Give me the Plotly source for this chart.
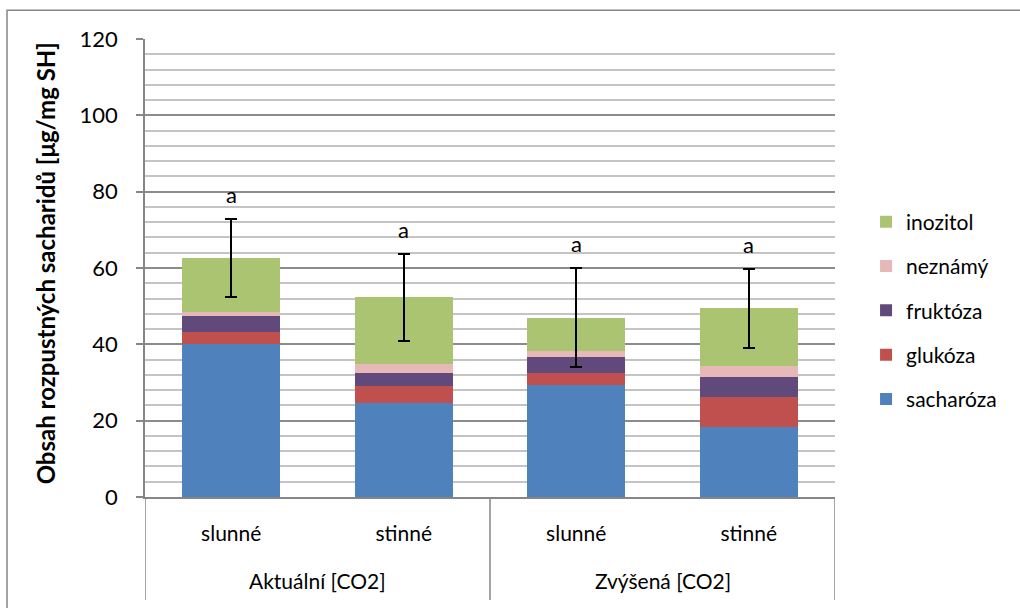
import plotly.graph_objects as go

# Stacked soluble-sugar content per treatment
groups = ["Aktuální [CO2]", "Zvýšená [CO2]"]
light = ["slunné", "stinné", "slunné", "stinné"]
group_of_bar = [0, 0, 1, 1]

series_names = ["sacharóza", "glukóza", "fruktóza", "neznámý", "inozitol"]
series_colors = ["#4F81BD", "#C0504D", "#614A7B", "#E6B9B8", "#AAC472"]
sacharoza = [40.0, 24.6, 29.4, 18.3]
glukoza = [3.2, 4.6, 3.1, 7.9]
fruktoza = [4.1, 3.3, 4.3, 5.3]
neznamy = [1.3, 2.4, 1.4, 2.8]
inozitol = [14.0, 17.4, 8.8, 15.1]
series_values = [sacharoza, glukoza, fruktoza, neznamy, inozitol]

total_err = [10.3, 11.5, 13.0, 10.3]
letters = ["a", "a", "a", "a"]

FONT = "Lato"
x = list(range(len(light)))
n = len(series_names)

fig = go.Figure()
for i, (name, color, vals) in enumerate(zip(series_names, series_colors, series_values)):
    is_top = i == n - 1
    fig.add_trace(go.Bar(
        x=x, y=vals, name=name,
        marker=dict(color=color, line=dict(width=0)),
        width=0.57,
        legendgroup=name,
        legendrank=n - i,  # top segment listed first
        error_y=dict(type="data", array=total_err, color="black",
                     thickness=2, width=6, visible=is_top),
        hoverinfo="skip",
    ))

totals = [sum(s[k] for s in series_values) for k in x]

annotations = []
# significance letters above the error bars
for k in x:
    annotations.append(dict(
        x=k, y=totals[k] + total_err[k], xref="x", yref="y",
        text=letters[k], showarrow=False, yanchor="bottom", yshift=9,
        font=dict(family=FONT, size=22, color="black"),
    ))
# group labels of the category axis
for g, gname in enumerate(groups):
    members = [k for k in x if group_of_bar[k] == g]
    annotations.append(dict(
        x=sum(members) / len(members), y=-0.183, xref="x", yref="paper",
        text=gname, showarrow=False, yanchor="middle",
        font=dict(family=FONT, size=21, color="black"),
    ))
# y-axis title
annotations.append(dict(
    x=-0.145, y=0.51, xref="paper", yref="paper", textangle=-90,
    text="Obsah rozpustných sacharidů [μg/mg SH]", showarrow=False,
    xanchor="center", yanchor="middle",
    font=dict(family=FONT, size=24, color="black", weight="bold"),
))

shapes = []
# category separators running down through the label area
for b in [-0.5, 1.5, 3.5]:
    shapes.append(dict(type="line", xref="x", yref="paper", x0=b, x1=b,
                       y0=0, y1=-0.225, line=dict(color="#868686", width=1.5)))
# outer chart frame
shapes.append(dict(type="rect", xref="paper", yref="paper",
                   x0=-0.2, x1=1.3, y0=-0.3, y1=1.063,
                   line=dict(color="#868686", width=1.5)))

fig.update_layout(
    width=1020, height=608,
    margin=dict(l=145, r=185, t=39, b=111),
    paper_bgcolor="white", plot_bgcolor="white",
    barmode="stack",
    font=dict(family=FONT, size=21, color="black"),
    showlegend=True,
    legend=dict(
        x=1.045, xanchor="left", y=0.645, yanchor="top",
        traceorder="grouped", tracegroupgap=14,
        font=dict(family=FONT, size=21, color="black"),
        itemwidth=30, bgcolor="rgba(0,0,0,0)",
    ),
    annotations=annotations,
    shapes=shapes,
)
fig.update_xaxes(
    range=[-0.5, 3.5], tickvals=x, ticktext=light,
    showgrid=False, zeroline=False, showline=True, linecolor="#868686", linewidth=1.5,
    ticks="", ticklabelstandoff=17,
    tickfont=dict(family=FONT, size=21, color="black"),
)
fig.update_yaxes(
    range=[0, 120], dtick=20, tick0=0,
    showgrid=True, gridcolor="#8C8C8C", gridwidth=1.5,
    minor=dict(dtick=4, showgrid=True, gridcolor="#C4C4C4", gridwidth=1.5),
    zeroline=False, showline=True, linecolor="#868686", linewidth=1.5,
    ticks="outside", ticklen=7, tickcolor="#868686", tickwidth=1.5,
    ticklabelstandoff=14,
    tickfont=dict(family=FONT, size=22, color="black"),
)

fig.write_html("out.html")
